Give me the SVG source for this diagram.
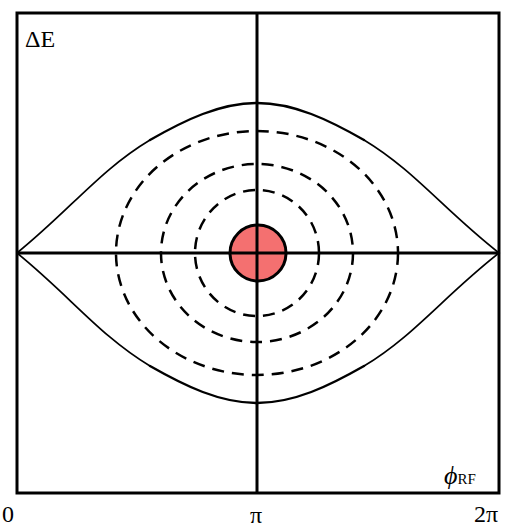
<svg xmlns="http://www.w3.org/2000/svg" width="514" height="529" viewBox="0 0 514 529">
<style>
.frame{fill:none;stroke:#000;stroke-width:3}
.axis{stroke:#000;stroke-width:3;fill:none}
.sep{fill:none;stroke:#000;stroke-width:1.7;stroke-linecap:round}
.sepc{fill:none;stroke:#000;stroke-width:2.4;stroke-linecap:round}
.dash{fill:none;stroke:#000;stroke-width:2.5;stroke-dasharray:12 8}
.lbl{font-family:"Liberation Serif","Times New Roman",serif;font-size:24px;fill:#000}
</style>
<rect width="514" height="529" fill="#fff"/>
<g id="frame"><rect class="frame" x="17" y="13" width="482" height="480"/></g>
<g id="connectors">
<line class="axis" x1="17" y1="253" x2="499" y2="253"/>
<line class="axis" x1="257" y1="13" x2="257" y2="493"/>
</g>
<g id="separatrix">
<path class="sep" d="M17,253 C70,210 100,170 150,140 M364,140 C414,170 444,210 499,253 C444,296 414,336 364,366 M150,366 C100,336 70,296 17,253"/>
<path class="sepc" d="M150,140 C185,120 220,103 257,103 C294,103 329,120 364,140"/>
<path class="sepc" d="M364,366 C329,386 294,403 257,403 C220,403 185,386 150,366"/>
</g>
<g id="orbits">
<ellipse id="orbit1" class="dash" cx="257" cy="253" rx="62" ry="63"/>
<ellipse id="orbit2" class="dash" cx="257" cy="253" rx="96" ry="89"/>
<ellipse id="orbit3" class="dash" cx="257" cy="253" rx="141" ry="122"/>
</g>
<g id="bunch">
<circle cx="258" cy="253" r="28" fill="#f47070" stroke="#000" stroke-width="3"/>
<line class="axis" x1="230" y1="253" x2="286" y2="253"/>
<line class="axis" x1="257" y1="225" x2="257" y2="281"/>
</g>
<g id="labels">
<text class="lbl" x="25" y="47">ΔE</text>
<text class="lbl" x="444" y="484"><tspan font-style="italic" font-size="26">ϕ</tspan><tspan font-size="15">RF</tspan></text>
<text class="lbl" x="2" y="522">0</text>
<text class="lbl" x="250" y="523" font-size="23">π</text>
<text class="lbl" x="474" y="522">2π</text>
</g>
</svg>
